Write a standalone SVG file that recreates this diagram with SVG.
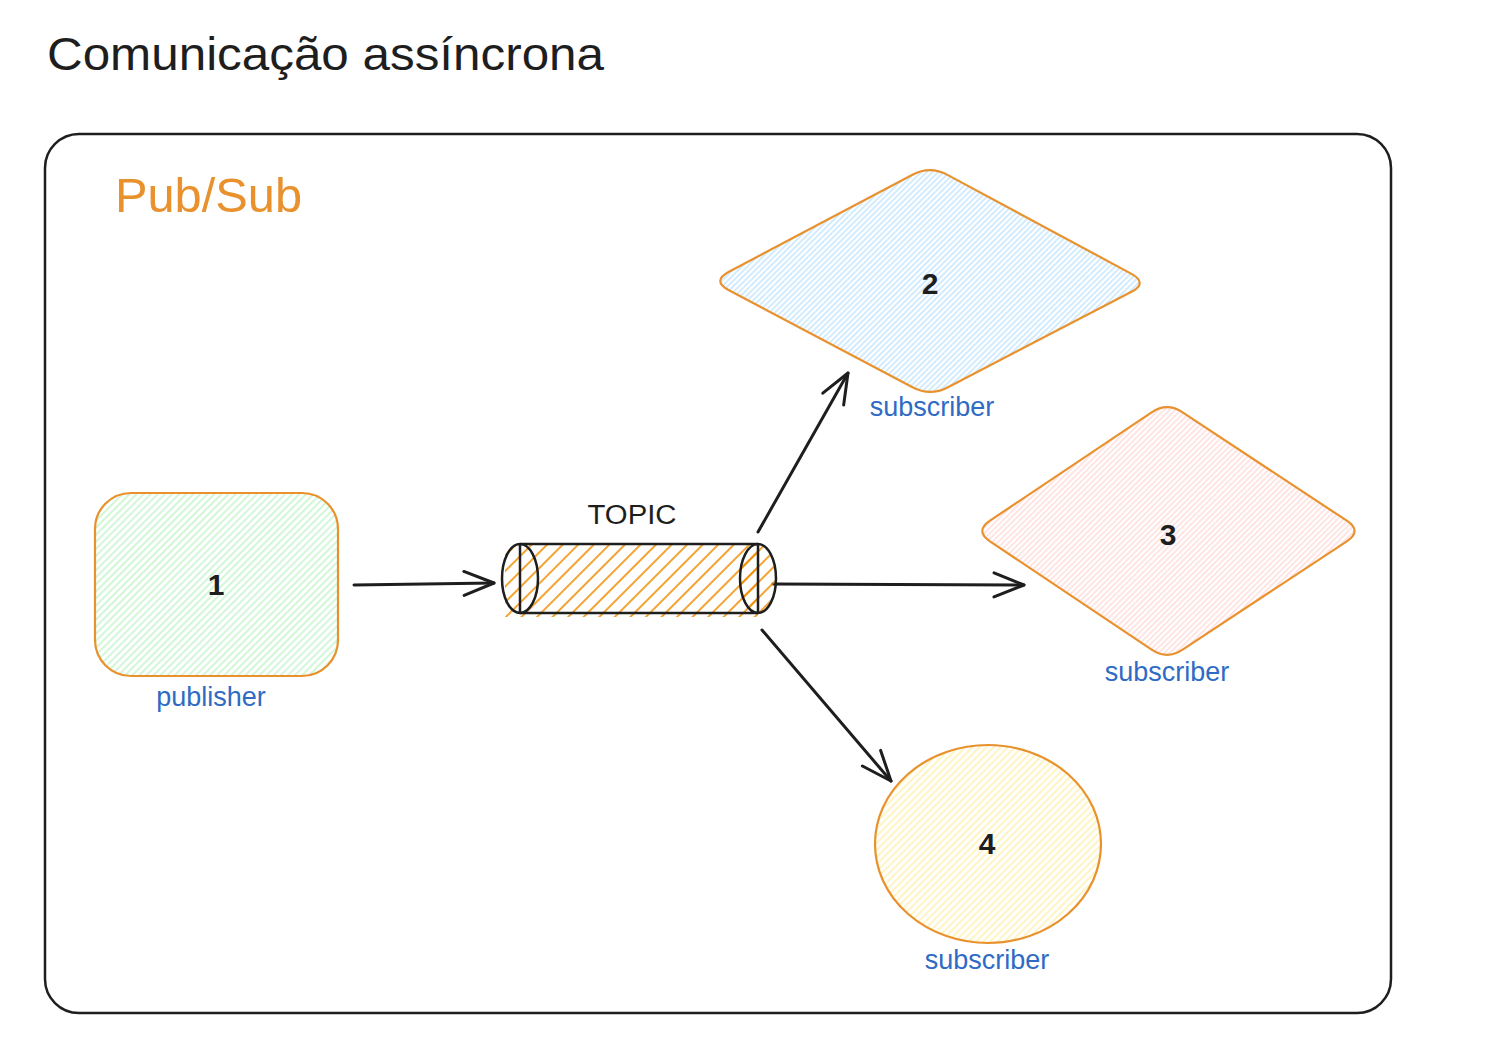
<svg xmlns="http://www.w3.org/2000/svg" width="1508" height="1052" viewBox="0 0 1508 1052">
<style>
.t{font-family:"Liberation Sans","Open Sans",sans-serif;fill:#1e1e1e}
.lbl{font-family:"Liberation Sans","Open Sans",sans-serif;fill:#2f6bc4;font-size:27px;text-anchor:middle}
.num{font-family:"Liberation Sans","Open Sans",sans-serif;fill:#1e1e1e;font-size:30px;text-anchor:middle;dominant-baseline:central;font-weight:bold}
.shape{stroke:#e8912d;stroke-width:2.2}
.conn{stroke:#1e1e1e;stroke-width:3;fill:none;stroke-linecap:round}
</style>
<defs>
<pattern id="hG" patternUnits="userSpaceOnUse" width="5" height="5" patternTransform="rotate(45)"><line x1="1" y1="0" x2="1" y2="5" stroke="#b2f2bb" stroke-width="1.2"/></pattern>
<pattern id="hB" patternUnits="userSpaceOnUse" width="4" height="4" patternTransform="rotate(45)"><line x1="1" y1="0" x2="1" y2="4" stroke="#a5d8ff" stroke-width="1"/></pattern>
<pattern id="hR" patternUnits="userSpaceOnUse" width="4" height="4" patternTransform="rotate(45)"><line x1="1" y1="0" x2="1" y2="4" stroke="#ffc9c9" stroke-width="1"/></pattern>
<pattern id="hY" patternUnits="userSpaceOnUse" width="5" height="5" patternTransform="rotate(45)"><line x1="1" y1="0" x2="1" y2="5" stroke="#ffec99" stroke-width="1.2"/></pattern>
<pattern id="hO" patternUnits="userSpaceOnUse" width="11" height="11" patternTransform="rotate(45)"><line x1="2" y1="0" x2="2" y2="11" stroke="#f08c00" stroke-width="1.6"/></pattern>
<marker id="arr" markerUnits="userSpaceOnUse" viewBox="0 0 34 30" markerWidth="34" markerHeight="30" refX="32" refY="15" orient="auto"><path d="M2,3 L32,15 L2,27" fill="none" stroke="#1e1e1e" stroke-width="3" stroke-linecap="round" stroke-linejoin="round"/></marker>
</defs>
<rect width="1508" height="1052" fill="#ffffff"/>
<text class="t" x="47" y="70" font-size="46" textLength="557" lengthAdjust="spacingAndGlyphs">Comunicação assíncrona</text>
<g id="container">
<rect x="45" y="134" width="1346" height="879" rx="34" fill="none" stroke="#1e1e1e" stroke-width="2.5"/>
<text x="115" y="212" font-size="48" font-family="Liberation Sans, Open Sans, sans-serif" fill="#e8912d" textLength="187" lengthAdjust="spacingAndGlyphs">Pub/Sub</text>
</g>
<g id="connectors">
<line class="conn" x1="354" y1="585" x2="494" y2="583" marker-end="url(#arr)"/>
<line class="conn" x1="758" y1="532" x2="848" y2="373" marker-end="url(#arr)"/>
<line class="conn" x1="773" y1="584" x2="1024" y2="585" marker-end="url(#arr)"/>
<line class="conn" x1="762" y1="630" x2="891" y2="781" marker-end="url(#arr)"/>
</g>
<g id="node-1">
<rect class="shape" x="95" y="493" width="243" height="183" rx="36" fill="url(#hG)"/>
<text class="num" x="216" y="584">1</text>
<text class="lbl" x="211" y="706">publisher</text>
</g>
<g id="node-topic">
<rect x="505" y="544" width="253" height="73" fill="url(#hO)"/>
<ellipse cx="758" cy="578" rx="17" ry="34" fill="url(#hO)"/>
<path d="M520,544 L758,544 M520,613 L758,613" stroke="#1e1e1e" stroke-width="2.5" fill="none"/>
<ellipse cx="520" cy="578.5" rx="18" ry="34.5" fill="none" stroke="#1e1e1e" stroke-width="2.5"/>
<ellipse cx="758" cy="578.5" rx="18" ry="34.5" fill="none" stroke="#1e1e1e" stroke-width="2.5"/>
<line x1="520" y1="544" x2="520" y2="613" stroke="#1e1e1e" stroke-width="2.5"/>
<line x1="758" y1="544" x2="758" y2="613" stroke="#1e1e1e" stroke-width="2.5"/>
<text class="t" x="632" y="524" font-size="27" text-anchor="middle" textLength="89" lengthAdjust="spacingAndGlyphs">TOPIC</text>
</g>
<g id="node-2">
<path class="shape" fill="url(#hB)" d="M728.98,271.76 L912.52,174.74 Q930,165.5 947.48,174.9 L1131.02,273.6 Q1148.5,283 1131.02,292.08 L947.48,387.42 Q930,396.5 912.52,387.26 L728.98,290.24 Q711.5,281 728.98,271.76 Z"/>
<text class="num" x="930" y="283">2</text>
<text class="lbl" x="932" y="416">subscriber</text>
</g>
<g id="node-3">
<path class="shape" fill="url(#hR)" d="M989.99,520.68 L1151.61,412.32 Q1167,402 1182.63,412.32 L1346.77,520.68 Q1362.4,531 1346.77,541.32 L1182.63,649.68 Q1167,660 1151.61,649.68 L989.99,541.32 Q974.6,531 989.99,520.68 Z"/>
<text class="num" x="1168" y="534">3</text>
<text class="lbl" x="1167" y="681">subscriber</text>
</g>
<g id="node-4">
<ellipse class="shape" cx="988" cy="844" rx="113" ry="99" fill="url(#hY)"/>
<text class="num" x="987" y="843">4</text>
<text class="lbl" x="987" y="969">subscriber</text>
</g>
</svg>
